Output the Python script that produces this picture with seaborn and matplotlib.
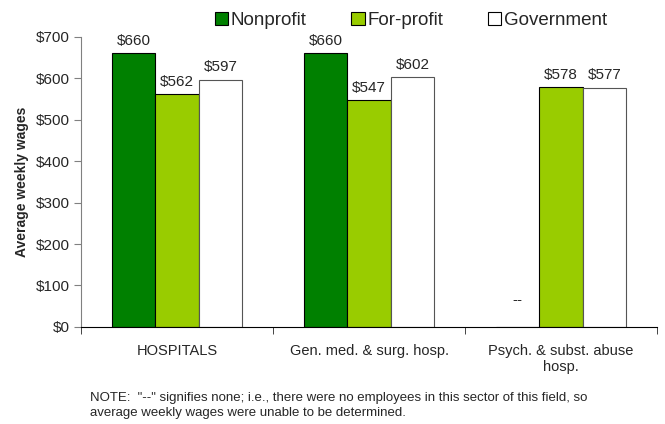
import numpy as np
import pandas as pd
import seaborn as sns
import matplotlib.pyplot as plt

categories = ['HOSPITALS', 'Gen. med. & surg. hosp.', 'Psych. & subst. abuse\nhosp.']
sectors = ['Nonprofit', 'For-profit', 'Government']
nonprofit = [660, 660, np.nan]
for_profit = [562, 547, 578]
government = [597, 602, 577]
y_ticks = [0, 100, 200, 300, 400, 500, 600, 700]
note = ('NOTE:  "--" signifies none; i.e., there were no employees in this sector of this field, so\n'
        'average weekly wages were unable to be determined.')


def main():
    sns.set_style('white')
    plt.rcParams['font.family'] = ['Liberation Sans', 'DejaVu Sans']

    df = pd.DataFrame({
        'category': categories * 3,
        'sector': [s for s in sectors for _ in categories],
        'wage': nonprofit + for_profit + government,
    })
    df['plot_wage'] = df['wage'].fillna(0)

    colors = {'Nonprofit': '#008000', 'For-profit': '#99CC00', 'Government': '#FFFFFF'}
    fig, ax = plt.subplots(figsize=(6.65, 4.24), dpi=100)
    fig.subplots_adjust(left=0.122, right=0.988, bottom=0.229, top=0.913)

    sns.barplot(data=df, x='category', y='plot_wage', hue='sector', hue_order=sectors,
                order=categories, palette=colors, width=0.68, errorbar=None,
                linewidth=0.8, edgecolor='black', saturation=1, ax=ax, legend=True)

    for sector, cont in zip(sectors, ax.containers):
        vals = df[df['sector'] == sector]['wage'].tolist()
        if sector == 'Government':
            for p in cont:
                p.set_edgecolor('#555555')
        labels = ['' if np.isnan(v) else f'${int(v)}' for v in vals]
        ax.bar_label(cont, labels=labels, padding=4, fontsize=11)
        for p, v in zip(cont, vals):
            if np.isnan(v):
                ax.text(p.get_x() + p.get_width() / 2, 65, '--', ha='center',
                        va='center', fontsize=11)

    ax.set_ylim(0, 700)
    ax.set_yticks(y_ticks)
    ax.set_yticklabels([f'${v}' for v in y_ticks], fontsize=11)
    ax.set_xlim(-0.5, 2.5)
    ax.tick_params(axis='x', labelsize=10.5, length=0, pad=12)
    ax.tick_params(axis='y', length=5, direction='out', left=True, color='#808080', pad=3)
    ax.set_xticks([-0.5, 0.5, 1.5, 2.5], minor=True)
    ax.tick_params(axis='x', which='minor', length=5, direction='out', bottom=True)
    ax.set_xlabel('')
    ax.set_ylabel('Average weekly wages', fontsize=10, fontweight='bold', labelpad=5)
    sns.despine(ax=ax)
    ax.spines['left'].set_color('#808080')
    ax.spines['bottom'].set_color('black')

    handles, labels = ax.get_legend_handles_labels()
    ax.legend(handles, labels, loc='upper center', bbox_to_anchor=(0.618, 1.012),
              bbox_transform=fig.transFigure, ncol=3, frameon=False, fontsize=13.5,
              handlelength=0.7, handleheight=0.7, handletextpad=0.15, columnspacing=2.4)

    fig.text(0.135, 0.012, note, fontsize=9.5, ha='left', va='bottom', linespacing=1.3)
    fig.savefig('out.png', dpi=100)


if __name__ == '__main__':
    main()
